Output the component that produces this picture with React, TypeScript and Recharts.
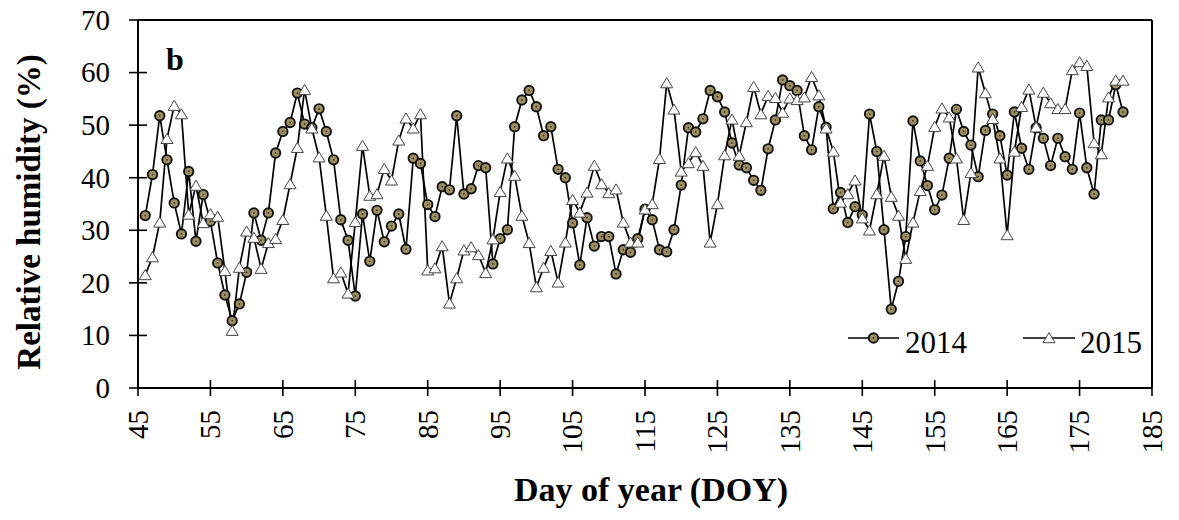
import { Line, LineChart, ReferenceLine, XAxis, YAxis } from 'recharts';

const FONT = '"Liberation Serif", "Times New Roman", serif';

const firstDay = 46;

const rh2014 = [
  32.8, 40.6, 51.8, 43.4, 35.2, 29.3, 41.2, 27.9, 36.8, 31.7,
  23.8, 17.7, 12.8, 16.0, 22.0, 33.3, 28.1, 33.3, 44.7, 48.8,
  50.5, 56.1, 50.2, 49.5, 53.1, 48.8, 43.4, 32.0, 28.1, 17.5,
  33.1, 24.1, 33.8, 27.8, 30.8, 33.1, 26.4, 43.7, 42.7, 34.9,
  32.6, 38.3, 37.7, 51.8, 36.9, 37.9, 42.3, 41.9, 23.6, 28.4,
  30.1, 49.7, 54.8, 56.6, 53.5, 48.0, 49.7, 41.6, 40.0, 31.4,
  23.4, 32.4, 27.0, 28.8, 28.8, 21.7, 26.3, 25.8, 28.4, 34.0,
  32.0, 26.3, 25.9, 30.1, 38.6, 49.5, 48.7, 51.2, 56.6, 55.4,
  52.5, 46.6, 42.4, 41.9, 39.5, 37.6, 45.5, 51.0, 58.6, 57.5,
  56.6, 48.0, 45.3, 53.5, 49.6, 34.1, 37.2, 31.5, 34.5, 32.9,
  52.1, 45.0, 30.1, 15.0, 20.3, 28.8, 50.8, 43.2, 38.5, 33.9,
  36.7, 43.7, 53.0, 48.8, 46.2, 40.2, 49.0, 52.1, 48.0, 40.5,
  52.5, 45.6, 41.6, 49.5, 47.5, 42.3, 47.5, 44.0, 41.6, 52.3,
  41.9, 36.9, 51.0, 51.0, 57.7, 52.5
];

const rh2015 = [
  21.5, 24.9, 31.5, 47.4, 53.7, 52.1, 33.0, 38.5, 31.4, 33.1,
  32.6, 22.3, 10.9, 22.9, 29.8, 28.6, 22.7, 27.6, 28.4, 32.0,
  38.8, 45.7, 56.7, 49.4, 43.9, 32.8, 20.9, 22.0, 18.0, 31.6,
  46.1, 36.6, 36.9, 41.7, 39.5, 47.1, 51.3, 49.4, 52.1, 22.4,
  22.8, 27.0, 16.1, 20.9, 26.2, 26.8, 25.3, 21.9, 28.3, 37.3,
  43.7, 40.4, 32.8, 27.6, 19.2, 22.9, 26.1, 20.1, 27.7, 35.8,
  33.4, 37.2, 42.3, 38.8, 37.1, 37.8, 31.5, 27.7, 27.7, 34.0,
  35.0, 43.6, 58.0, 53.0, 41.2, 42.8, 44.9, 42.3, 27.7, 35.0,
  44.3, 51.1, 44.2, 50.6, 57.3, 52.1, 55.6, 55.2, 52.4, 55.1,
  54.8, 55.3, 59.2, 55.7, 49.4, 45.0, 35.3, 36.9, 39.5, 32.3,
  30.0, 36.9, 44.2, 36.4, 32.8, 24.6, 31.5, 37.5, 42.3, 49.7,
  53.2, 51.5, 43.7, 32.0, 40.9, 61.0, 56.1, 51.2, 43.7, 29.1,
  45.0, 53.5, 56.8, 49.6, 56.2, 54.2, 53.1, 53.1, 60.5, 62.0,
  61.3, 46.6, 44.5, 55.3, 58.5, 58.5
];

const xTicks = [45, 55, 65, 75, 85, 95, 105, 115, 125, 135, 145, 155, 165, 175, 185];
const yTicks = [0, 10, 20, 30, 40, 50, 60, 70];

const data = rh2014.map((v, i) => ({ day: firstDay + i, y2014: v, y2015: rh2015[i] }));

function CircleDot({ cx, cy }: any) {
  if (cx == null || cy == null) return null;
  return (
    <g>
      <circle cx={cx} cy={cy} r={4.7} fill="#9e8f62" stroke="#111" strokeWidth={1.9} />
      <circle cx={cx} cy={cy} r={0.9} fill="#3a3320" />
    </g>
  );
}

function TriangleDot({ cx, cy }: any) {
  if (cx == null || cy == null) return null;
  const pts = `${cx},${cy - 5.4} ${cx - 6},${cy + 4.7} ${cx + 6},${cy + 4.7}`;
  return <polygon points={pts} fill="#fff" stroke="#444" strokeWidth={1} />;
}

function XTick({ x, y, payload }: any) {
  const ty = y + 22;
  return (
    <g>
      <line x1={x} x2={x} y1={y - 8} y2={y + 8} stroke="#000" strokeWidth={1.6} />
      <text
        x={x}
        y={ty}
        transform={`rotate(-90 ${x} ${ty})`}
        textAnchor="end"
        dy="0.34em"
        fontSize={29}
        fontFamily={FONT}
        fill="#000"
      >
        {payload.value}
      </text>
    </g>
  );
}

function YTick({ x, y, payload }: any) {
  return (
    <g>
      <line x1={x - 9} x2={x + 9} y1={y} y2={y} stroke="#000" strokeWidth={1.6} />
      <text x={x - 28} y={y} dy="0.34em" textAnchor="end" fontSize={29} fontFamily={FONT} fill="#000">
        {payload.value}
      </text>
    </g>
  );
}

export default function App() {
  // pulled up over the body margin so the top tick label keeps room inside the svg
  return (
    <div style={{ position: 'relative', width: 1163, height: 520, marginTop: -8 }}>
      <LineChart width={1163} height={520} data={data} margin={{ top: 20, right: 19, left: 0, bottom: 2 }}>
        <XAxis
          dataKey="day"
          type="number"
          domain={[45, 185]}
          ticks={xTicks}
          interval={0}
          height={130}
          tickSize={0}
          tickMargin={0}
          tickLine={false}
          tick={<XTick />}
          axisLine={{ stroke: '#000', strokeWidth: 2 }}
        />
        <YAxis
          type="number"
          domain={[0, 70]}
          ticks={yTicks}
          interval={0}
          width={130}
          tickSize={0}
          tickMargin={0}
          tickLine={false}
          tick={<YTick />}
          axisLine={{ stroke: '#000', strokeWidth: 2 }}
        />
        <ReferenceLine y={70} stroke="#000" strokeWidth={2} />
        <ReferenceLine x={185} stroke="#000" strokeWidth={2} />
        <Line
          dataKey="y2014"
          stroke="#000"
          strokeWidth={1.7}
          dot={(p: any) => <CircleDot key={`c${p.index}`} {...p} />}
          activeDot={false}
          isAnimationActive={false}
        />
        <Line
          dataKey="y2015"
          stroke="#000"
          strokeWidth={1.7}
          dot={(p: any) => <TriangleDot key={`t${p.index}`} {...p} />}
          activeDot={false}
          isAnimationActive={false}
        />
      </LineChart>
      <svg width={1163} height={520} style={{ position: 'absolute', left: 0, top: 0, pointerEvents: 'none' }}>
        <text
          x={20}
          y={212}
          transform="rotate(-90 20 212)"
          textAnchor="middle"
          dy="0.35em"
          fontSize={33}
          fontWeight="bold"
          fontFamily={FONT}
          fill="#000"
        >
          Relative humidity (%)
        </text>
        <text x={643} y={501} textAnchor="middle" fontSize={34} fontWeight="bold" fontFamily={FONT} fill="#000">
          Day of year (DOY)
        </text>
        <text x={158} y={70} fontSize={32} fontWeight="bold" fontFamily={FONT} fill="#000">
          b
        </text>
        <line x1={840} x2={891} y1={338} y2={338} stroke="#000" strokeWidth={1.6} />
        <CircleDot cx={865.5} cy={338} />
        <text x={897} y={353} fontSize={31} fontFamily={FONT} fill="#000">2014</text>
        <line x1={1015} x2={1067} y1={338} y2={338} stroke="#000" strokeWidth={1.6} />
        <TriangleDot cx={1041} cy={338} />
        <text x={1072} y={353} fontSize={31} fontFamily={FONT} fill="#000">2015</text>
      </svg>
    </div>
  );
}
